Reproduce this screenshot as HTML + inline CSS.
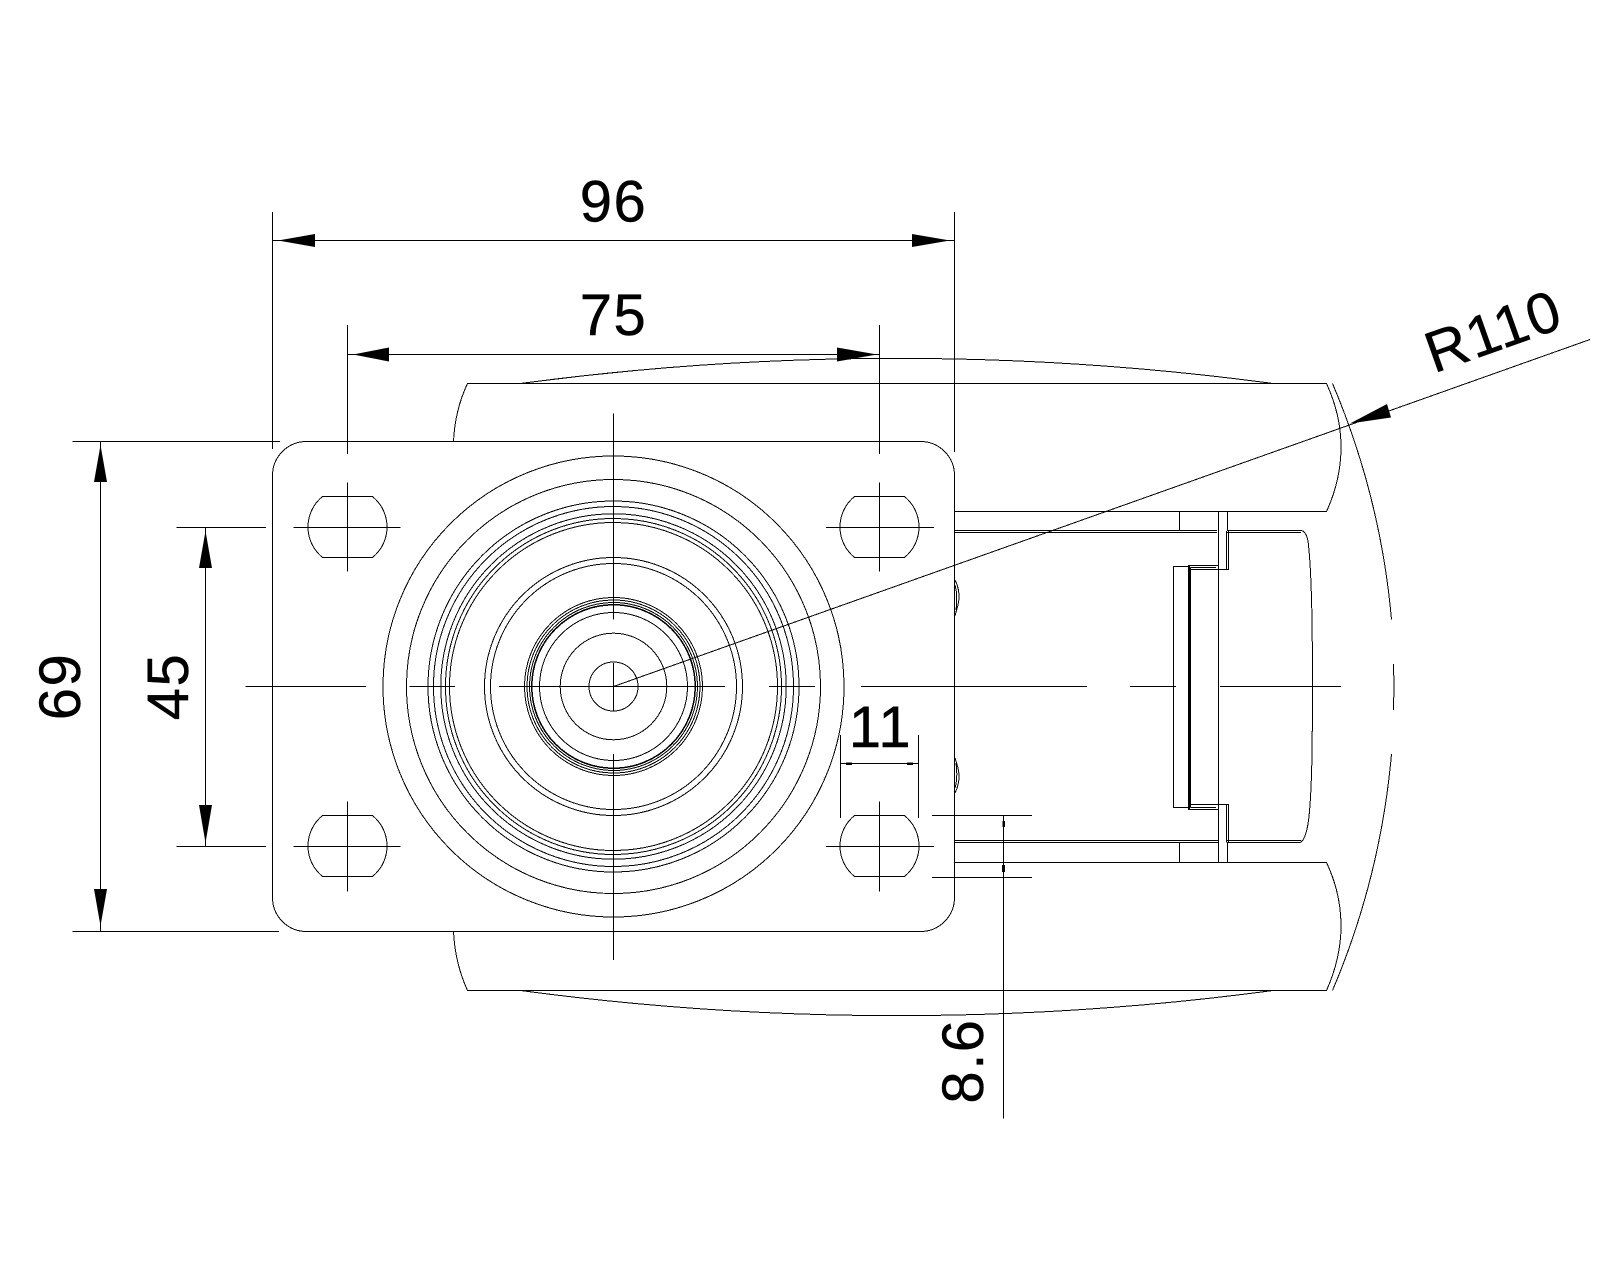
<!DOCTYPE html>
<html><head><meta charset="utf-8"><style>
html,body{margin:0;padding:0;background:#fff}
svg{display:block}
text{font-family:"Liberation Sans",sans-serif;font-size:58px;fill:#000;stroke:#000;stroke-width:.4px;text-anchor:middle;letter-spacing:1.5px}
</style></head><body>
<svg width="1600" height="1280" viewBox="0 0 1600 1280" xmlns="http://www.w3.org/2000/svg">
<rect width="1600" height="1280" fill="#fff"/>
<g fill="none" stroke="#000" stroke-width="1" shape-rendering="crispEdges">
<!-- plate -->
<rect x="272.5" y="441.5" width="682" height="490" rx="34" ry="34"/>
<!-- circles -->
<g>
<circle cx="613.5" cy="686.5" r="230.5"/><circle cx="613.5" cy="686.5" r="207"/>
<circle cx="613.5" cy="686.5" r="185.5"/><circle cx="613.5" cy="686.5" r="180"/>
<circle cx="613.5" cy="686.5" r="172.7"/><circle cx="613.5" cy="686.5" r="168"/>
<circle cx="613.5" cy="686.5" r="164"/><circle cx="613.5" cy="686.5" r="129"/>
<circle cx="613.5" cy="686.5" r="123"/><circle cx="613.5" cy="686.5" r="89"/>
<circle cx="613.5" cy="686.5" r="86.5"/><circle cx="613.5" cy="686.5" r="84"/>
<circle cx="613.5" cy="686.5" r="82"/><circle cx="613.5" cy="686.5" r="81.5"/>
<circle cx="613.5" cy="686.5" r="74"/><circle cx="613.5" cy="686.5" r="53.3"/>
<circle cx="613.5" cy="686.5" r="24.5"/>
</g>
<!-- holes -->
<path d="M322.5 496.5H372.5A39.3 39.3 0 0 1 372.5 557.5H322.5A39.3 39.3 0 0 1 322.5 496.5Z"/>
<path d="M854.5 496.5H904.5A39.3 39.3 0 0 1 904.5 557.5H854.5A39.3 39.3 0 0 1 854.5 496.5Z"/>
<path d="M322.5 815.5H372.5A39.3 39.3 0 0 1 372.5 876.5H322.5A39.3 39.3 0 0 1 322.5 815.5Z"/>
<path d="M854.5 815.5H904.5A39.3 39.3 0 0 1 904.5 876.5H854.5A39.3 39.3 0 0 1 854.5 815.5Z"/>
<!-- hole crosshairs -->
<path d="M293.5 527.5H400.5M347.5 482.5V571.5M826 527.5H934M879.5 482.5V571.5M293.5 846.5H400.5M347.5 801.5V891.5M826 846.5H934M879.5 801.5V891.5"/>
<!-- main centre lines -->
<path d="M245.5 686.5H366M409.5 686.5H455M499 686.5H725M769 686.5H815M861 686.5H1087M1130 686.5H1176M1220 686.5H1341"/>
<path d="M613.5 413.5V619.5M613.5 663V711M613.5 754V960"/>
<!-- body top -->
<path d="M453.5 441.5Q455 410 467.5 383.5H1326.5Q1341 415 1341 447Q1341 480 1326.5 511.5H954"/>
<path d="M520.5 383.5A2840 2840 0 0 1 1273 383.5"/>
<!-- body bottom -->
<path d="M453.5 931.5Q455 963 467.5 990.5H1326.5Q1341 958 1341 926Q1341 893 1326.5 862.5H954"/>
<path d="M520.5 990.5A2840 2840 0 0 0 1273 990.5"/>
<!-- outer R110 arc -->
<path d="M1332.5 383.5A781 781 0 0 1 1391.5 619.5M1393.5 664A781 781 0 0 1 1393.5 710M1391.5 754A781 781 0 0 1 1332.5 990.5"/>
<!-- fork -->
<path d="M954 530.5H1217M954 532.5H1217M954 840.5H1218M954 842.5H1218"/>
<path d="M1179.5 511.5V530.5M1179.5 842.5V862.5M1218.5 511.5V862.5M1227.5 511.5V531M1227.5 842V862.5"/>
<path d="M1226.5 531V569M1228.5 531V569.5H1190.5M1226.5 842.5V804M1228.5 842.5V804.5H1190.5"/>
<path d="M1218 565.5H1188.5V809.5H1218M1190.5 567.5H1216M1190.5 807.5H1216M1190.5 567.5V807.5M1189.5 566V809"/>
<path d="M1188.5 566.5H1173.5V807.5H1188.5"/>
<!-- wheel -->
<path d="M1227 530.5H1301Q1306 531 1308 541Q1311 565 1312 620Q1313 686 1312 755Q1311 805 1308 824Q1305 841 1300 842.5H1227"/>
<path d="M1227 532.5H1301M1227 840.5H1301"/>
<!-- small squiggles -->
<path d="M955 580Q961 592 958 605Q956 612 955 616M955 585Q958 595 956 610"/>
<path d="M955 793Q961 781 958 768Q956 761 955 758M955 788Q958 778 956 763"/>
<!-- dims: extension lines -->
<path d="M272.5 212V449M954.5 212V452M347.5 325V454M879.5 325V454"/>
<path d="M72.5 441.5H280M72.5 931.5H279M176.5 527.5H266M176.5 846.5H266"/>
<path d="M840.5 735V818M918.5 735V818M932 815.5H1032M932 877.5H1032"/>
<!-- dims: dimension lines -->
<path d="M272.5 240.5H954.5M347.5 354.5H879.5M100.5 441.5V931.5M205.5 527.5V846.5M840.5 763.5H918.5M1003.5 815.5V1118.5"/>
<!-- leader -->
<path d="M613.5 686.5L1590 339.5"/>
</g>
<!-- arrowheads -->
<g fill="#000" stroke="none">
<polygon points="278,240.5 315,234 315,247"/>
<polygon points="950,240.5 912,234 912,247"/>
<polygon points="353,354.5 389,347.5 389,361.5"/>
<polygon points="877,354.5 837,347.5 837,361.5"/>
<polygon points="100.5,445 94,482 107,482"/>
<polygon points="100.5,926 94,889 107,889"/>
<polygon points="205.5,531 199,568 212,568"/>
<polygon points="205.5,843 199,805 212,805"/>
<polygon points="1350,423.5 1387,404 1391,417.5"/>
<rect x="846" y="762.5" width="6" height="2.5"/>
<rect x="907" y="762.5" width="6" height="2.5"/>
<rect x="1002.5" y="821" width="2.5" height="6"/>
<rect x="1002" y="865" width="3" height="7"/>
</g>
<!-- labels -->
<text x="613.5" y="221.5">96</text>
<text x="613.5" y="335">75</text>
<text x="880.5" y="747">11</text>
<text transform="translate(80 686.5) rotate(-90)">69</text>
<text transform="translate(188 686.5) rotate(-90)">45</text>
<text transform="translate(983 1061) rotate(-90)">8.6</text>
<text transform="translate(1500 350) rotate(-19.57)">R110</text>
</svg>
</body></html>
